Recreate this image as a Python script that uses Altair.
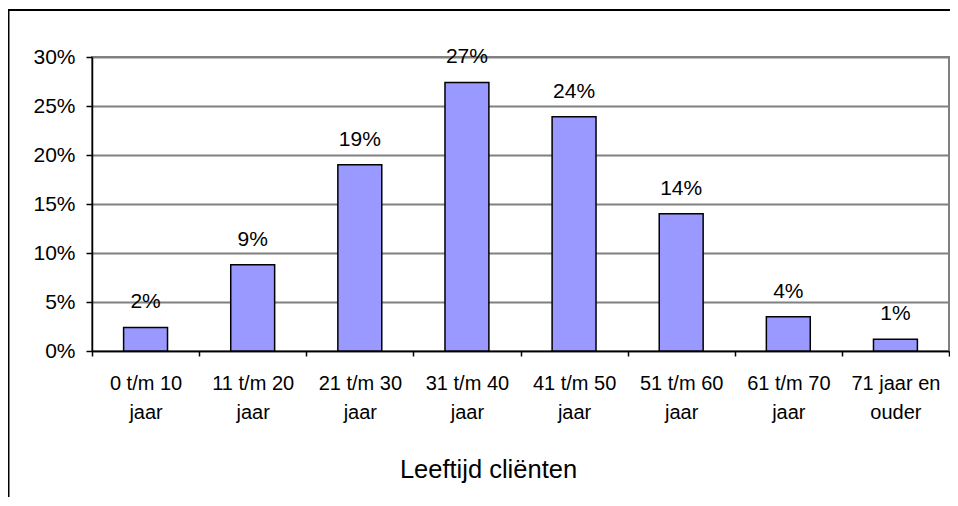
import altair as alt
import pandas as pd

categories = [
    "0 t/m 10\njaar",
    "11 t/m 20\njaar",
    "21 t/m 30\njaar",
    "31 t/m 40\njaar",
    "41 t/m 50\njaar",
    "51 t/m 60\njaar",
    "61 t/m 70\njaar",
    "71 jaar en\nouder",
]
values_pct = [2.4, 8.8, 19.0, 27.4, 23.9, 14.0, 3.5, 1.2]
labels = ["2%", "9%", "19%", "27%", "24%", "14%", "4%", "1%"]
y_ticks = [0, 0.05, 0.10, 0.15, 0.20, 0.25, 0.30]

df = pd.DataFrame({
    "cat": categories,
    "value": [v / 100 for v in values_pct],
    "label": labels,
})

FONT = "Arial, Liberation Sans, sans-serif"

x_enc = alt.X(
    "cat:N",
    sort=categories,
    scale=alt.Scale(paddingInner=0, paddingOuter=0),
    axis=alt.Axis(
        title="Leeftijd cliënten",
        labelAngle=0,
        tickBand="extent",
        labelExpr="split(datum.label, '\\n')",
        labelOverlap=False,
        labelFontSize=20,
        labelFont=FONT,
        labelColor="black",
        labelPadding=17,
        labelBaseline="top",
        labelLineHeight=29,
        domainColor="black",
        domainWidth=1.5,
        tickColor="black",
        tickWidth=1.5,
        tickSize=5,
        grid=False,
        titleFont=FONT,
        titleFontSize=25.5,
        titleFontWeight="normal",
        titleColor="black",
        titleX=396,
        titleY=126,
        titleAlign="center",
        titleBaseline="alphabetic",
    ),
)
y_enc = alt.Y(
    "value:Q",
    scale=alt.Scale(domain=[0, 0.3], nice=False),
    axis=alt.Axis(
        title=None,
        format=".0%",
        values=y_ticks,
        labelFontSize=21,
        labelFont=FONT,
        labelColor="black",
        labelPadding=11,
        tickSize=6,
        tickColor="black",
        tickWidth=1.5,
        domainColor="black",
        domainWidth=1.5,
        grid=True,
        gridColor="#808080",
        gridWidth=2,
    ),
)

base = alt.Chart(df)

bars = base.mark_bar(
    color="#9999FF",
    stroke="black",
    strokeWidth=1.5,
    width=alt.RelativeBandSize(0.41),
).encode(x=x_enc, y=y_enc)

text = base.mark_text(
    dy=-19,
    baseline="alphabetic",
    fontSize=21,
    font=FONT,
    color="black",
).encode(x=x_enc, y=y_enc, text="label:N")

border = alt.Chart(pd.DataFrame({"a": [0]})).mark_rect(
    fill="transparent",
    stroke="black",
    strokeWidth=2,
).encode(
    x=alt.value(-83.5),
    x2=alt.value(1000),
    y=alt.value(-47),
    y2=alt.value(600),
)

chart = alt.layer(bars, text, border).properties(
    width=857,
    height=294,
    autosize=alt.AutoSizeParams(type="none"),
    padding={"left": 84, "top": 49, "right": 1, "bottom": 146},
).configure_view(
    stroke="#808080",
    strokeWidth=2,
)

chart.save("out.html", embed_options={"renderer": "svg", "actions": False})
